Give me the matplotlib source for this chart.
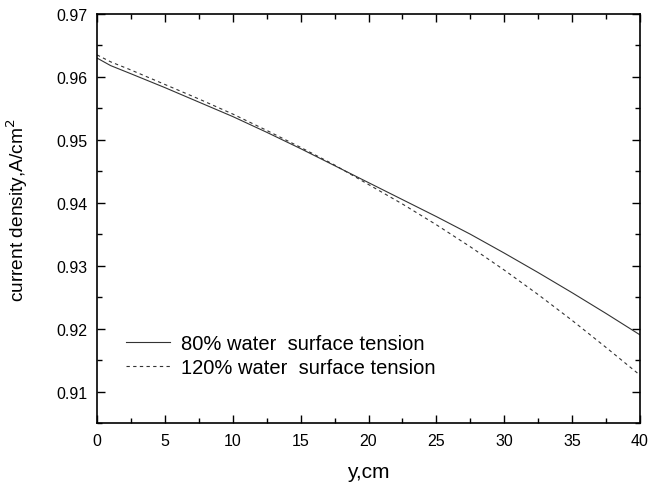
import matplotlib
matplotlib.use("Agg")
import matplotlib.pyplot as plt
from matplotlib.ticker import MultipleLocator, FormatStrFormatter

# values
y_pos = [0, 1, 2.5, 5, 7.5, 10, 12.5, 15, 17.5, 20, 22.5, 25, 27.5, 30, 32.5, 35, 37.5, 40]
j_80 = [0.9630, 0.9618, 0.9605, 0.9583, 0.9560, 0.9537, 0.9512, 0.9486, 0.9459, 0.9432,
        0.9405, 0.9378, 0.9350, 0.9320, 0.9289, 0.9257, 0.9224, 0.9190]
j_120 = [0.9635, 0.9624, 0.9611, 0.9588, 0.9565, 0.9541, 0.9515, 0.9488, 0.9460, 0.9429,
         0.9398, 0.9365, 0.9330, 0.9293, 0.9254, 0.9213, 0.9170, 0.9126]

plt.rcParams['font.family'] = ['Liberation Sans', 'DejaVu Sans']

fig = plt.figure(figsize=(6.48, 4.85), dpi=100)
ax = fig.add_axes([0.1497, 0.1258, 0.838, 0.8433])

ax.plot(y_pos, j_80, color='#333333', lw=0.8, label='80% water  surface tension')
ax.plot(y_pos, j_120, color='#333333', lw=0.8, linestyle=(0, (3, 3)),
        label='120% water  surface tension')

ax.set_xlim(0, 40)
ax.set_ylim(0.905, 0.97)
ax.xaxis.set_major_locator(MultipleLocator(5))
ax.xaxis.set_minor_locator(MultipleLocator(2.5))
ax.yaxis.set_major_locator(MultipleLocator(0.01))
ax.yaxis.set_minor_locator(MultipleLocator(0.005))
ax.yaxis.set_major_formatter(FormatStrFormatter('%.2f'))
ax.tick_params(which='both', direction='in', top=True, right=True, labelsize=11.5, width=1)
ax.tick_params(which='major', length=6, pad=7)
ax.tick_params(which='minor', length=3.5)
for s in ax.spines.values():
    s.set_linewidth(1.2)

ax.set_xlabel('y,cm', fontsize=15, labelpad=10)
ax.set_ylabel('current density,A/cm$^2$', fontsize=13.8)
ax.yaxis.set_label_coords(-0.123, 0.523)

ax.legend(loc='lower left', bbox_to_anchor=(0.02, 0.068), frameon=False, fontsize=14.5,
          handlelength=2.2, labelspacing=0.25, handletextpad=0.55)

fig.savefig('out.png', dpi=100)
